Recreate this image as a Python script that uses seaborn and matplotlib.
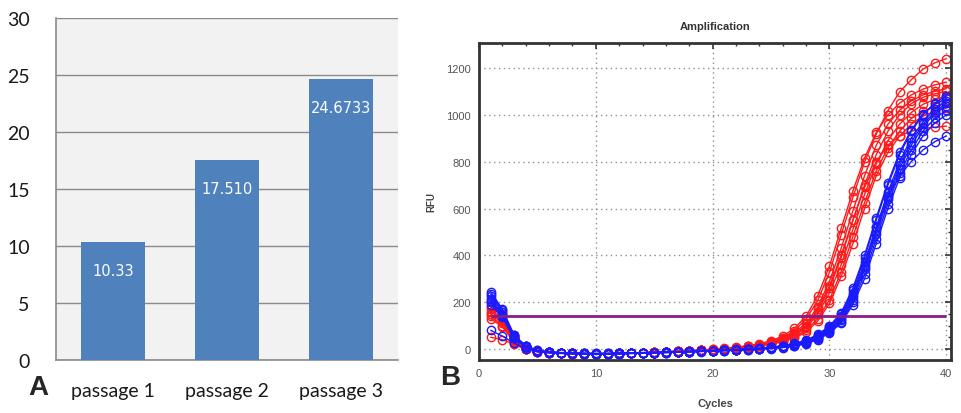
import numpy as np
import pandas as pd
import seaborn as sns
import matplotlib.pyplot as plt
from matplotlib.ticker import MultipleLocator

# panel A
passages = ["passage 1", "passage 2", "passage 3"]
passage_values = [10.33, 17.51, 24.6733]
passage_labels = ["10.33", "17.510", "24.6733"]

# panel B
cycles = list(range(1, 41))
threshold = 140

red_rfu = [
    [150, 110, 35, 2, -10, -15, -18, -20, -21, -22, -21, -20, -19, -17, -15, -13, -11, -9, -6, -3,
     1, 5, 11, 19, 30, 48, 78, 128, 208, 328, 488, 648, 798, 918, 1018, 1098, 1150, 1195, 1222, 1240],
    [200, 160, 55, 10, -6, -12, -16, -18, -20, -20, -19, -18, -17, -15, -13, -11, -9, -7, -4, -1,
     3, 8, 14, 22, 35, 55, 88, 140, 228, 355, 515, 675, 815, 925, 1000, 1050, 1085, 1110, 1128, 1140],
    [170, 125, 40, 4, -8, -14, -17, -19, -20, -21, -20, -19, -17, -16, -14, -12, -10, -8, -5, -2,
     2, 6, 12, 19, 29, 45, 70, 110, 180, 290, 430, 590, 740, 870, 960, 1020, 1060, 1085, 1100, 1112],
    [50, 40, 20, -2, -12, -16, -19, -21, -22, -22, -21, -20, -18, -16, -14, -12, -10, -8, -6, -3,
     0, 4, 9, 16, 25, 40, 62, 95, 160, 260, 390, 550, 700, 830, 930, 1000, 1048, 1075, 1090, 1100],
    [130, 95, 30, 0, -11, -15, -18, -20, -21, -21, -20, -19, -18, -16, -14, -12, -10, -8, -5, -3,
     1, 4, 9, 15, 24, 38, 58, 90, 150, 240, 360, 510, 660, 790, 890, 960, 1010, 1045, 1066, 1080],
    [180, 140, 45, 6, -9, -14, -17, -19, -20, -21, -20, -19, -18, -16, -14, -12, -10, -8, -6, -3,
     0, 3, 8, 14, 22, 34, 52, 80, 130, 210, 330, 480, 625, 760, 860, 930, 985, 1015, 1036, 1050],
    [160, 120, 38, 3, -10, -15, -18, -20, -21, -21, -21, -20, -18, -17, -15, -13, -11, -9, -6, -4,
     -1, 3, 7, 13, 20, 31, 47, 72, 120, 195, 310, 450, 600, 740, 840, 910, 960, 995, 1016, 1030],
    [140, 100, 32, 1, -11, -16, -19, -20, -21, -22, -21, -20, -18, -17, -15, -13, -11, -9, -6, -3,
     0, 4, 10, 17, 27, 42, 66, 100, 170, 270, 400, 550, 690, 800, 870, 910, 930, 942, 947, 952],
]

blue_rfu = [
    [245, 170, 60, 14, -6, -12, -15, -17, -18, -19, -19, -18, -17, -16, -15, -14, -12, -11, -9, -7,
     -5, -3, 0, 3, 7, 13, 22, 36, 58, 92, 148, 250, 390, 550, 700, 830, 930, 1000, 1050, 1082],
    [225, 160, 55, 12, -7, -13, -16, -18, -19, -20, -20, -19, -18, -17, -16, -14, -13, -11, -10, -8,
     -6, -4, -1, 2, 6, 11, 19, 32, 52, 84, 135, 230, 360, 520, 670, 800, 900, 970, 1025, 1060],
    [205, 145, 48, 10, -8, -14, -17, -19, -20, -20, -20, -19, -18, -17, -16, -15, -13, -12, -10, -8,
     -6, -4, -2, 1, 4, 9, 16, 28, 47, 78, 122, 210, 340, 490, 640, 770, 870, 950, 1005, 1040],
    [190, 135, 45, 9, -9, -15, -18, -19, -20, -21, -20, -20, -19, -17, -16, -15, -14, -12, -10, -9,
     -7, -5, -3, 0, 3, 8, 14, 25, 43, 73, 115, 200, 320, 470, 620, 750, 850, 930, 985, 1020],
    [80, 55, 25, 2, -12, -16, -18, -20, -21, -21, -21, -20, -19, -18, -17, -15, -14, -12, -11, -9,
     -7, -5, -3, -1, 2, 6, 12, 22, 40, 68, 110, 190, 300, 450, 600, 730, 830, 910, 965, 1000],
    [215, 150, 50, 11, -8, -14, -16, -18, -19, -20, -20, -19, -18, -17, -15, -14, -12, -11, -9, -7,
     -5, -3, 0, 3, 7, 12, 20, 34, 56, 90, 140, 240, 370, 520, 650, 740, 800, 850, 885, 910],
    [235, 165, 58, 13, -7, -13, -16, -18, -19, -19, -19, -18, -17, -16, -15, -13, -12, -10, -9, -7,
     -5, -2, 1, 4, 8, 14, 24, 38, 62, 98, 155, 260, 400, 560, 710, 840, 935, 1005, 1045, 1070],
    [200, 140, 46, 10, -8, -14, -17, -19, -20, -21, -20, -19, -18, -17, -16, -14, -13, -11, -10, -8,
     -6, -4, -2, 1, 5, 10, 17, 30, 50, 81, 128, 220, 350, 505, 655, 785, 885, 960, 1012, 1050],
]


def long_form(curves, group):
    rows = []
    for i, curve in enumerate(curves):
        for c, v in zip(cycles, curve):
            rows.append({"group": group, "well": f"{group}{i}", "cycle": c, "rfu": v})
    return pd.DataFrame(rows)


def plot_bars(ax):
    df = pd.DataFrame({"passage": passages, "value": passage_values})
    sns.barplot(data=df, x="passage", y="value", color="#4f81bd", saturation=1,
                width=0.56, ax=ax, zorder=3, edgecolor="none", linewidth=0)
    ax.set_facecolor("#f2f2f2")
    ax.set_ylim(0, 30)
    ax.set_xlim(-0.5, 2.5)
    ax.yaxis.set_major_locator(MultipleLocator(5))
    ax.grid(axis="y", color="#8a8a8a", lw=1, zorder=0)
    ax.set_axisbelow(True)
    for s in ["top", "right"]:
        ax.spines[s].set_visible(False)
    for s in ["left", "bottom"]:
        ax.spines[s].set_color("#8a8a8a")
        ax.spines[s].set_linewidth(1.2)
    ax.tick_params(axis="y", length=0, pad=19, labelsize=14)
    ax.tick_params(axis="x", length=0, pad=16, labelsize=14)
    for t in ax.get_yticklabels() + ax.get_xticklabels():
        t.set_fontfamily("Lato")
        t.set_color("#1a1a1a")
    ax.set_xlabel("")
    ax.set_ylabel("")
    ax.bar_label(ax.containers[0], labels=passage_labels, padding=-26,
                 color="white", fontsize=10.5, family="DejaVu Sans")


def plot_amplification(ax):
    red = long_form(red_rfu, "red")
    blue = long_form(blue_rfu, "blue")
    common = dict(x="cycle", y="rfu", units="well", estimator=None, marker="o",
                  markersize=6, markerfacecolor="none", markeredgewidth=1, lw=1, ax=ax)
    sns.lineplot(data=red, color="#ff1a1a", markeredgecolor="#ff1a1a", **common)
    sns.lineplot(data=blue, color="#1a1aff", markeredgecolor="#1a1aff", **common)
    ax.hlines(threshold, 1, 40, color="#8b1a8b", lw=2, zorder=5)

    ax.set_xlim(0, 40.4)
    ax.set_ylim(-47, 1307)
    ax.xaxis.set_major_locator(MultipleLocator(10))
    ax.xaxis.set_minor_locator(MultipleLocator(2))
    ax.yaxis.set_major_locator(MultipleLocator(200))
    ax.yaxis.set_minor_locator(MultipleLocator(50))
    ax.grid(which="major", color="#8f8f8f", ls=(0, (1, 2.5)), lw=1)
    for s in ax.spines.values():
        s.set_color("#333333")
        s.set_linewidth(2)
    ax.tick_params(which="both", direction="in", top=True, right=True, color="#333333")
    ax.tick_params(which="major", length=4, width=1.2, labelsize=8, labelcolor="#555555", pad=6)
    ax.tick_params(which="minor", length=2.5, width=1)
    for t in ax.get_yticklabels() + ax.get_xticklabels():
        t.set_fontfamily("Liberation Sans")
    ax.set_title("Amplification", fontsize=8, fontweight="bold", color="#333333",
                 family="Liberation Sans", pad=10)
    ax.set_xlabel("Cycles", fontsize=8, fontweight="bold", color="#444444",
                  family="Liberation Sans", labelpad=14)
    ax.set_ylabel("RFU", fontsize=7, fontweight="bold", color="#444444",
                  family="Liberation Sans", labelpad=7)


def main():
    sns.set_style("white")
    fig = plt.figure(figsize=(9.62, 4.14), dpi=100)
    ax_a = fig.add_axes([56 / 962, 53 / 414, 342 / 962, 342 / 414])
    ax_b = fig.add_axes([479 / 962, 53 / 414, 472 / 962, 317 / 414])
    plot_bars(ax_a)
    plot_amplification(ax_b)
    fig.text(38 / 962, 1 - 388 / 414, "A", fontsize=20, fontweight="bold",
             family="Liberation Sans", ha="center", va="center")
    fig.text(450 / 962, 1 - 378 / 414, "B", fontsize=20, fontweight="bold",
             family="Liberation Sans", ha="center", va="center")
    fig.savefig("out.png", dpi=100)


if __name__ == "__main__":
    main()
